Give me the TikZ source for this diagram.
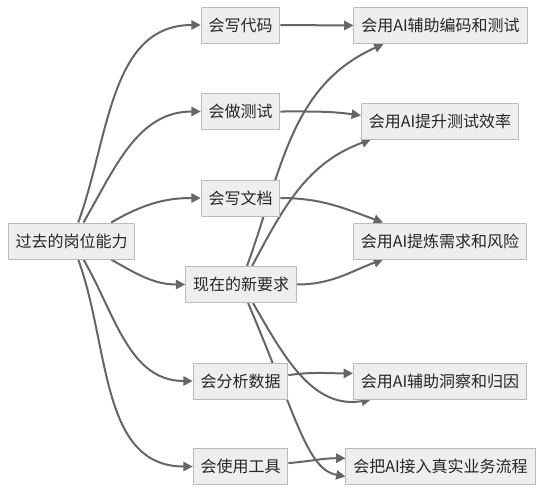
\documentclass[tikz,border=0pt]{standalone}
\usepackage{fontspec}
\setmainfont{Noto Sans CJK SC}
\usetikzlibrary{arrows.meta,backgrounds}
\definecolor{boxfill}{HTML}{EEEEEE}
\definecolor{boxline}{HTML}{BBBBBB}
\definecolor{linkgray}{HTML}{666666}
\tikzset{
  box/.style = {draw=boxline, fill=boxfill, line width=0.75pt, minimum height=27pt,
                inner xsep=5.5pt, font=\fontsize{12}{14}\selectfont, text=black!85},
  link/.style = {draw=linkgray, line width=1.5pt, -{Triangle[length=7pt,width=7pt]}}
}
\begin{document}
\begin{tikzpicture}[x=0.75pt, y=0.75pt]
      \useasboundingbox (0,0) rectangle (543,-493);
      % left column
      \node [box] (past) at (71.5,-241)   {过去的岗位能力};
      % middle column
      \node [box] (code) at (240.5,-25)   {会写代码};
      \node [box] (test) at (240.5,-111.5) {会做测试};
      \node [box] (doc)  at (240.5,-198)  {会写文档};
      \node [box] (now)  at (241,-284.5)  {现在的新要求};
      \node [box] (data) at (240.5,-381)  {会分析数据};
      \node [box] (tool) at (240.5,-466.5) {会使用工具};
      % right column
      \node [box] (aicode) at (440.5,-25.5) {会用AI辅助编码和测试};
      \node [box] (aitest) at (440,-121)    {会用AI提升测试效率};
      \node [box] (airisk) at (440,-241)    {会用AI提炼需求和风险};
      \node [box] (aidata) at (440,-381)    {会用AI辅助洞察和归因};
      \node [box] (aiflow) at (440.5,-466.5) {会把AI接入真实业务流程};
      \begin{scope}[on background layer, every edge/.style={link}]
      \path (past.70) edge[out=70, in=180] (code.west)
            (past.57) edge[out=60, in=180] (test.west)
            (past.25) edge[out=30, in=180] (doc.west)
            (past.-25) edge[out=-30, in=180] (now.west)
            (past.-57) edge[out=-60, in=180] (data.west)
            (past.-70) edge[out=-70, in=180] (tool.west)
            (code.east) edge (aicode.west)
            (test.east) edge[out=0, in=172] (aitest.176)
            (doc.east) edge[out=0, in=160] (airisk.162)
            (data.7) edge[out=8, in=180] (aidata.175)
            (tool.4) edge[out=5, in=180] (aiflow.175)
            (now.72) edge[out=70, in=204] (aicode.198)
            (now.59) edge[out=62, in=200] (aitest.195)
            (now.east) edge[out=0, in=200] (airisk.198)
            (now.-57) edge[out=-60, in=190] (aidata.195)
            (now.-69) edge[out=-67, in=170, out looseness=1.6, in looseness=0.5] (aiflow.186)
      ;
      \end{scope}
    \end{tikzpicture}
\end{document}
